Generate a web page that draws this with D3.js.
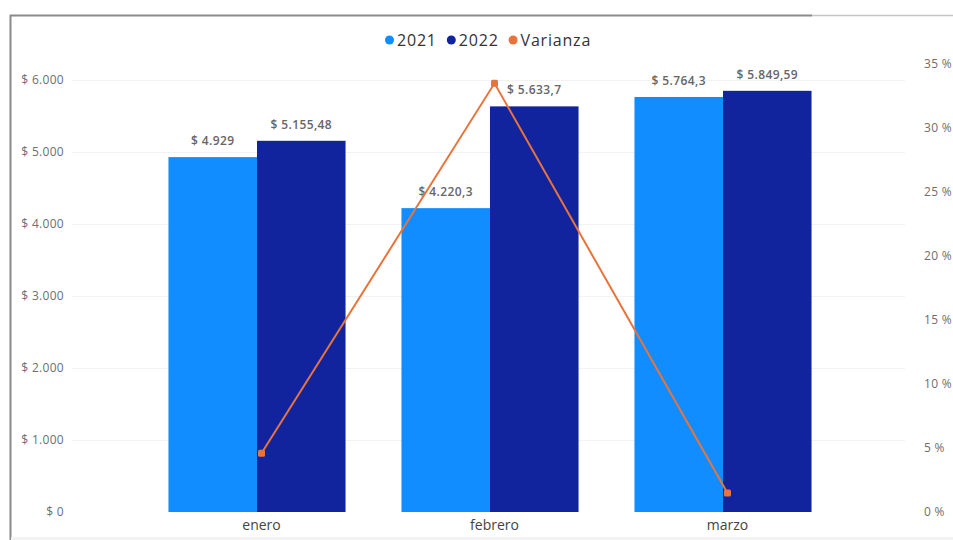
<!DOCTYPE html>
<html>
<head>
<meta charset="utf-8">
<script src="https://cdn.jsdelivr.net/npm/d3@7"></script>
<style>
  body { margin: 0; background: #fff; }
  svg { display: block; font-family: "Open Sans", "Segoe UI", sans-serif; }
</style>
</head>
<body>
<svg id="chart" width="953" height="540"></svg>
<script>
const categories = ["enero", "febrero", "marzo"];
const values2021 = [4929, 4220.3, 5764.3];
const values2022 = [5155.48, 5633.7, 5849.59];
const varianza = [4.59, 33.49, 1.48];
const labels2021 = ["$ 4.929", "$ 4.220,3", "$ 5.764,3"];
const labels2022 = ["$ 5.155,48", "$ 5.633,7", "$ 5.849,59"];
const leftTicks = [0, 1000, 2000, 3000, 4000, 5000, 6000];
const leftTickLabels = ["$ 0", "$ 1.000", "$ 2.000", "$ 3.000", "$ 4.000", "$ 5.000", "$ 6.000"];
const rightTicks = [0, 5, 10, 15, 20, 25, 30, 35];
const rightTickLabels = ["0 %", "5 %", "10 %", "15 %", "20 %", "25 %", "30 %", "35 %"];
const seriesNames = ["2021", "2022", "Varianza"];

const colors = { c2021: "#118DFF", c2022: "#12239E", line: "#E8743B" };

const svg = d3.select("#chart");

// frame
svg.append("line").attr("x1", 10).attr("x2", 812).attr("y1", 15.5).attr("y2", 15.5)
  .attr("stroke", "#8a8a8a").attr("stroke-width", 2);
svg.append("line").attr("x1", 812).attr("x2", 953).attr("y1", 15.5).attr("y2", 15.5)
  .attr("stroke", "#c4c4c4").attr("stroke-width", 1.5);
svg.append("line").attr("x1", 10.5).attr("x2", 10.5).attr("y1", 15).attr("y2", 540)
  .attr("stroke", "#8a8a8a").attr("stroke-width", 2);
svg.append("rect").attr("x", 11).attr("y", 537).attr("width", 942).attr("height", 3)
  .attr("fill", "#f3f3f3");

const y = d3.scaleLinear().domain([0, 6000]).range([512, 80]);
const y2 = d3.scaleLinear().domain([0, 35]).range([512, 64]);
const x = d3.scaleBand().domain(categories).range([140.5, 839.5])
  .paddingInner(0.24).paddingOuter(0.12);
const xs = d3.scaleBand().domain(["2021", "2022"]).range([0, x.bandwidth()]);
const shift = 4.5;
const xc = d => x(d) + x.bandwidth() / 2 + shift;

// gridlines
svg.append("g").selectAll("line").data(leftTicks.slice(1)).join("line")
  .attr("x1", 72).attr("x2", 905)
  .attr("y1", d => Math.round(y(d)) + 0.5).attr("y2", d => Math.round(y(d)) + 0.5)
  .attr("stroke", "#f2f2f2").attr("stroke-width", 1);

const tickStyle = sel => sel.attr("fill", "#6e6e6e").style("font-size", "12px")
  .style("letter-spacing", "0.3px").style("font-family", "'Open Sans', sans-serif");

// left axis
const leftAxis = d3.axisLeft(y).tickValues(leftTicks)
  .tickFormat((d, i) => leftTickLabels[i]).tickSize(0).tickPadding(0);
const gL = svg.append("g").attr("transform", "translate(64,0)").call(leftAxis);
gL.select(".domain").remove();
gL.selectAll("text").call(tickStyle);

// right axis
const rightAxis = d3.axisRight(y2).tickValues(rightTicks)
  .tickFormat((d, i) => rightTickLabels[i]).tickSize(0).tickPadding(0);
const gR = svg.append("g").attr("transform", "translate(924,0)").call(rightAxis);
gR.select(".domain").remove();
gR.selectAll("text").call(tickStyle);

// bars
const groups = svg.append("g").selectAll("g").data(categories).join("g")
  .attr("transform", d => `translate(${x(d)},0)`);
groups.append("rect")
  .attr("x", xs("2021")).attr("width", xs.bandwidth())
  .attr("y", (d, i) => y(values2021[i])).attr("height", (d, i) => y(0) - y(values2021[i]))
  .attr("fill", colors.c2021);
groups.append("rect")
  .attr("x", xs("2022")).attr("width", xs.bandwidth())
  .attr("y", (d, i) => y(values2022[i])).attr("height", (d, i) => y(0) - y(values2022[i]))
  .attr("fill", colors.c2022);

// bar labels
const labStyle = sel => sel.attr("text-anchor", "middle").attr("fill", "#666")
  .style("font-size", "12px").style("font-weight", "600").style("letter-spacing", "0.4px")
  .style("font-family", "'Open Sans', sans-serif");
groups.append("text")
  .attr("x", xs("2021") + xs.bandwidth() / 2)
  .attr("y", (d, i) => y(values2021[i]) - 12)
  .text((d, i) => labels2021[i]).call(labStyle);
groups.append("text")
  .attr("x", xs("2022") + xs.bandwidth() / 2)
  .attr("y", (d, i) => y(values2022[i]) - 12)
  .text((d, i) => labels2022[i]).call(labStyle);

// category axis labels
svg.append("g").selectAll("text").data(categories).join("text")
  .attr("x", d => xc(d)).attr("y", 530).attr("text-anchor", "middle")
  .attr("fill", "#444").style("font-size", "14px")
  .text(d => d);

// line
const line = d3.line().x((d, i) => xc(categories[i])).y(d => y2(d));
svg.append("path").datum(varianza).attr("d", line)
  .attr("fill", "none").attr("stroke", colors.line).attr("stroke-width", 2);
svg.append("g").selectAll("rect").data(varianza).join("rect")
  .attr("x", (d, i) => xc(categories[i]) - 3.5).attr("y", d => y2(d) - 3.5)
  .attr("width", 7).attr("height", 7).attr("rx", 1.5)
  .attr("fill", colors.line);

// legend
const legendData = [
  { name: seriesNames[0], color: colors.c2021 },
  { name: seriesNames[1], color: colors.c2022 },
  { name: seriesNames[2], color: colors.line }
];
const legend = svg.append("g").attr("transform", "translate(0,40)");
let lx = 385;
legendData.forEach(d => {
  legend.append("circle").attr("cx", lx + 4.5).attr("cy", 0).attr("r", 4.5).attr("fill", d.color);
  const t = legend.append("text").attr("x", lx + 12).attr("y", 5.5)
    .attr("fill", "#333").style("font-size", "16px").style("font-weight", "500")
    .style("letter-spacing", "0.8px").text(d.name);
  lx += 12 + t.node().getComputedTextLength() + 10;
});
</script>
</body>
</html>
